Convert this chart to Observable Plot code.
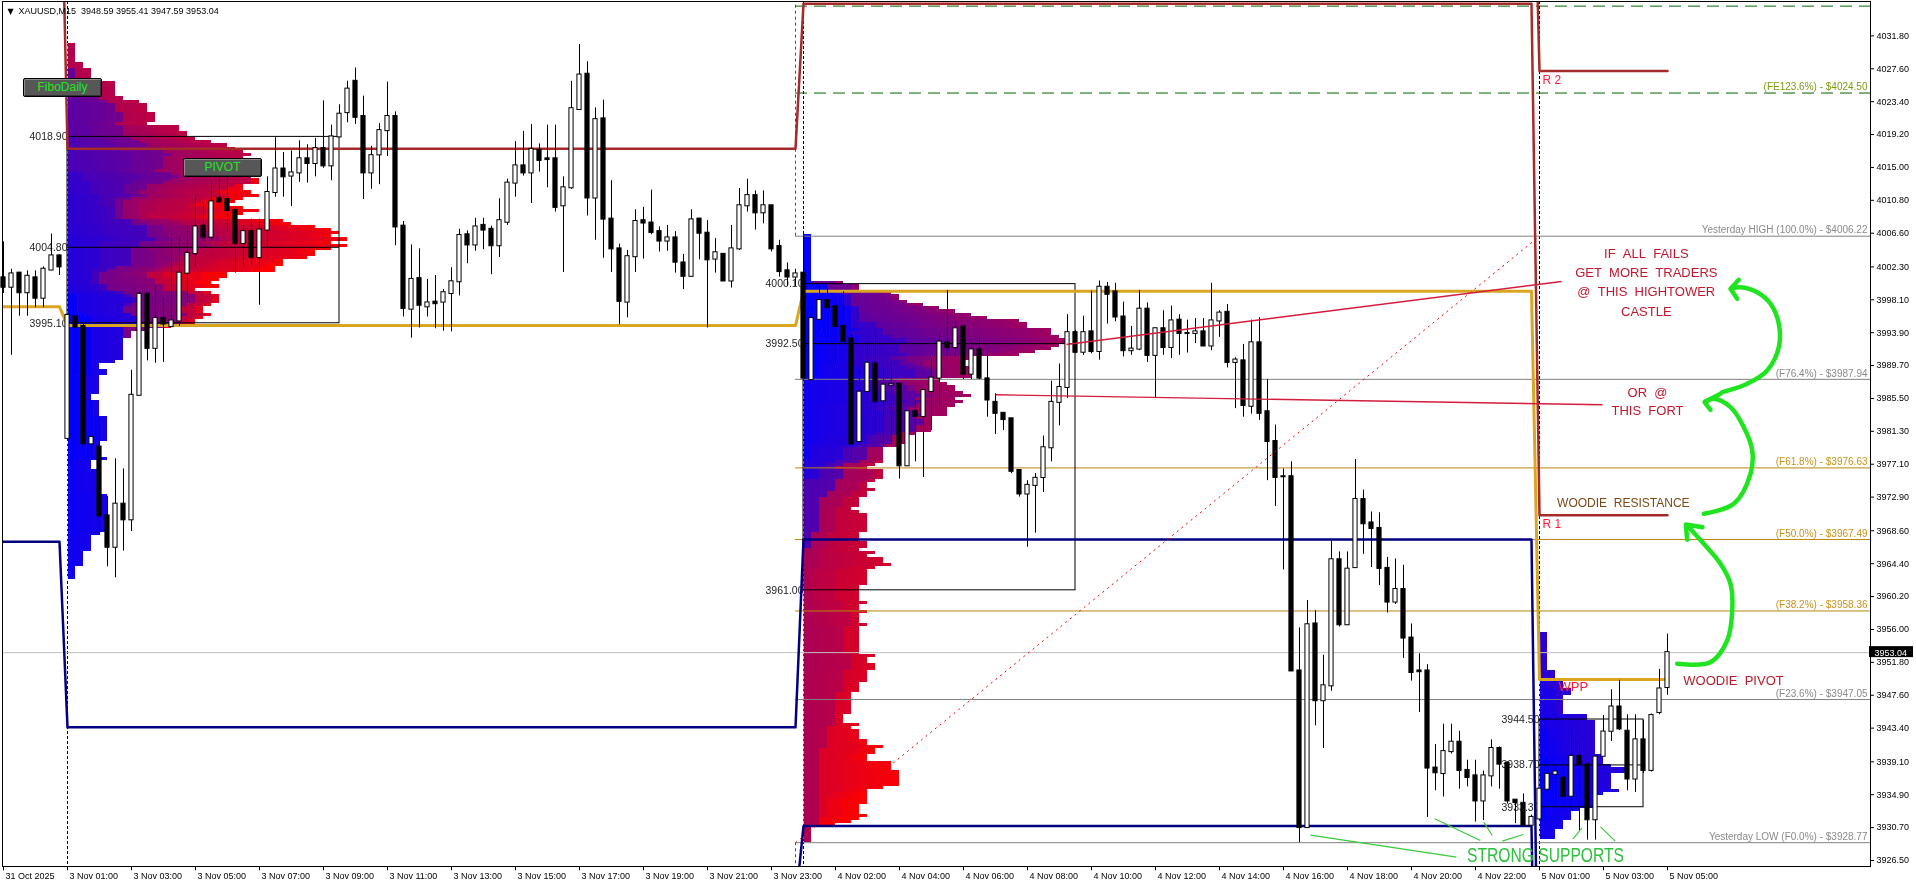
<!DOCTYPE html>
<html><head><meta charset="utf-8">
<script src="https://cdn.jsdelivr.net/npm/d3@7"></script>
<script src="https://cdn.jsdelivr.net/npm/@observablehq/plot@0.6"></script>
<style>
html,body{margin:0;padding:0;background:#fff;}
#wrap{position:relative;width:1916px;height:885px;overflow:hidden;}
.btn{position:absolute;width:77px;height:17px;background:#575757;border:1px solid #000;color:#22e622;font:12px 'Liberation Sans',Arial,sans-serif;text-align:center;line-height:17px;box-shadow:inset 1px 1px 0 #8c8c8c, inset -1px -1px 0 #333;border-radius:2px;}
</style></head><body><div id="wrap"></div>
<script>
// ---------- DATA (M15 bars, bar index 0 = 31 Oct late session) ----------
const opens = [4000.9,3999.7,4001.5,3999.0,4000.9,3998.3,4001.9,4003.7,3980.4,3995.9,
3994.7,3979.7,3979.3,3970.5,3966.5,3972.0,3970.0,3985.9,3998.8,3991.9,
3995.7,3994.7,3995.4,4001.5,4004.0,4007.5,4006.1,4011.0,4010.9,4009.5,
4005.3,4006.8,4003.5,4007.0,4011.8,4014.8,4013.9,4014.3,4016.1,4015.5,
4017.4,4015.2,4018.9,4022.0,4026.0,4021.5,4014.3,4016.6,4019.7,4021.5,
4007.5,3996.9,4000.8,3997.2,3997.8,3997.8,3998.9,4000.4,4006.4,4005.1,
4007.6,4007.1,4005.0,4008.0,4013.0,4015.2,4014.3,4017.2,4016.1,4016.1,
4010.1,4012.4,4022.4,4026.9,4011.1,4021.2,4008.4,4004.6,3997.8,4003.6,
4008.2,4007.9,4006.8,4005.6,4006.0,4002.8,4001.1,4008.4,4006.6,4003.3,
4003.9,4000.5,4004.6,4010.1,4011.4,4009.2,4010.1,4004.9,4001.8,4001.0,
4001.5,3987.9,3995.6,3998.0,3997.2,3994.7,3993.1,3980.0,3986.4,3989.9,
3985.2,3987.2,3987.3,3976.9,3983.8,3983.2,3986.4,3988.1,3992.6,3992.0,
3994.6,3988.6,3991.7,3988.0,3985.0,3983.6,3982.9,3976.3,3973.3,3974.4,
3975.4,3979.2,3985.0,3986.9,3993.9,3991.4,3994.0,3991.5,3999.7,3999.1,
3995.9,3991.6,3991.8,3996.9,3991.0,3994.4,3992.0,3995.5,3993.8,3993.8,
3994.0,3992.2,3995.4,3996.5,3990.1,3990.3,3984.5,3992.6,3983.8,3980.0,
3975.5,3975.5,3950.7,3930.7,3956.7,3946.9,3948.8,3964.9,3956.6,3963.9,
3972.6,3969.6,3968.9,3963.8,3959.5,3961.1,3954.9,3950.7,3950.7,3938.3,
3937.6,3940.4,3941.6,3938.0,3937.3,3934.1,3937.3,3940.8,3938.9,3934.2,
3933.8,3931.0,3931.8,3935.6,3937.5,3937.0,3934.7,3939.8,3938.7,3931.7,
3939.8,3943.0,3946.1,3943.0,3936.9,3941.9,3938.0,3945.4,3948.59];
const highs = [4005.5,4002.0,4001.6,4001.8,4001.8,4002.3,4006.5,4003.8,3996.3,3998.9,
3995.8,3985.2,3983.0,3973.0,3977.8,3976.5,3989.1,3999.1,3999.1,3999.9,
3998.4,4006.5,4006.1,4007.6,4011.5,4010.4,4013.1,4014.4,4014.2,4009.9,
4007.6,4008.4,4008.4,4013.8,4018.8,4016.9,4017.1,4018.4,4017.9,4018.7,
4023.5,4020.4,4023.0,4026.0,4027.7,4024.1,4017.7,4020.6,4025.9,4022.1,
4008.1,4005.1,4004.6,4000.7,4001.2,3999.4,4002.2,4007.1,4006.9,4008.5,
4008.5,4007.5,4011.0,4013.5,4018.3,4019.6,4020.5,4018.0,4020.4,4020.4,
4013.8,4026.0,4030.7,4028.5,4022.6,4023.6,4013.3,4005.2,4004.4,4009.6,
4009.9,4012.1,4007.4,4007.6,4006.8,4003.9,4009.6,4008.5,4008.2,4005.9,
4004.0,4007.6,4012.3,4013.5,4012.0,4012.0,4010.1,4005.7,4002.8,4002.0,
4006.22,3997.2,3999.8,3999.8,3998.9,3999.1,3993.6,3989.0,3992.6,3994.4,
3989.7,3990.0,3987.4,3983.9,3985.2,3986.6,3990.5,3993.9,3999.3,3995.4,
3995.0,3993.0,3993.3,3991.2,3986.1,3983.6,3982.9,3976.3,3975.0,3975.9,
3980.7,3987.7,3989.9,3996.2,3994.2,3996.0,3999.2,4000.5,4000.3,4000.2,
3997.8,3994.7,3999.3,3997.7,3994.5,3996.7,3997.3,3996.2,3995.5,3995.7,
3995.7,4000.2,3996.7,3997.5,3990.7,3992.4,3995.5,3995.8,3987.9,3982.1,
3976.5,3977.4,3956.2,3959.7,3958.4,3952.7,3967.3,3965.9,3965.9,3977.7,
3973.8,3971.0,3970.9,3965.2,3965.0,3964.2,3956.7,3952.9,3951.5,3941.3,
3943.9,3943.9,3943.0,3939.3,3939.3,3937.9,3941.9,3941.0,3939.1,3934.2,
3935.0,3932.3,3935.6,3939.5,3938.5,3938.4,3943.3,3941.7,3938.7,3939.8,
3945.0,3948.3,3949.5,3945.1,3945.1,3944.4,3945.2,3950.9,3955.41];
const lows = [3998.9,3991.0,3996.0,3996.0,3997.1,3997.1,4001.8,4001.2,3980.2,3988.4,
3977.6,3977.6,3968.0,3964.0,3962.6,3966.0,3968.5,3985.9,3990.3,3990.0,
3990.1,3994.7,3994.7,3997.8,4002.2,4005.6,4005.6,4010.5,4006.5,4001.5,
4002.3,4002.4,3997.4,4004.9,4011.2,4011.2,4010.0,4013.1,4013.0,4013.8,
4014.9,4013.3,4018.9,4020.7,4020.5,4010.9,4012.2,4012.8,4016.4,4005.0,
3995.9,3993.2,3994.5,3995.9,3994.4,3994.1,3994.0,3998.6,4002.7,4004.3,
4004.5,4001.3,4003.5,4007.6,4011.2,4013.9,4010.4,4014.4,4012.4,4009.3,
4001.6,4012.2,4022.4,4008.8,4005.7,4003.4,4001.6,3994.9,3995.8,4001.6,
4003.3,4006.4,4004.2,4004.3,4001.5,3999.4,4001.0,4003.2,3994.5,4001.5,
4000.5,3999.6,4004.4,4009.3,4007.0,4007.8,4004.2,4001.0,3999.8,3999.8,
3988.1,3987.9,3994.2,3992.4,3990.1,3992.5,3977.7,3979.7,3984.8,3980.8,
3979.4,3979.4,3975.2,3976.9,3977.4,3975.4,3981.4,3984.6,3990.8,3990.8,
3987.9,3987.9,3987.9,3983.1,3980.9,3981.4,3975.9,3972.9,3966.5,3968.3,
3973.5,3977.4,3982.0,3985.5,3991.2,3991.0,3991.2,3990.4,3995.0,3995.3,
3990.8,3991.0,3991.6,3990.1,3985.5,3991.0,3990.6,3991.0,3991.3,3992.5,
3992.1,3991.6,3993.3,3989.4,3984.2,3983.1,3983.5,3982.7,3975.0,3971.7,
3963.6,3950.7,3928.77,3930.7,3943.7,3940.8,3948.1,3956.3,3956.5,3963.9,
3965.6,3963.9,3961.6,3958.1,3959.2,3952.3,3949.4,3945.4,3932.0,3935.4,
3934.6,3940.1,3935.6,3935.9,3931.4,3931.6,3935.9,3935.6,3933.7,3931.2,
3930.8,3931.0,3931.8,3934.8,3933.1,3933.1,3932.9,3930.3,3929.1,3929.1,
3939.8,3941.7,3943.1,3935.4,3935.2,3937.6,3937.8,3945.1,3947.59];
const closes = [3999.7,4001.4,3999.0,4001.1,3998.3,4002.0,4003.7,4002.3,3996.1,3994.6,
3979.7,3980.5,3970.5,3966.5,3972.0,3970.0,3985.9,3998.8,3991.9,3995.7,
3995.0,3995.4,4001.5,4004.0,4007.4,4006.1,4010.6,4010.6,4009.5,4005.3,
4006.8,4003.5,4007.0,4011.8,4014.8,4013.8,4014.3,4016.1,4015.5,4017.4,
4015.2,4018.9,4021.8,4025.0,4021.4,4014.3,4016.5,4019.7,4021.5,4007.4,
3997.0,4000.7,3997.4,3997.7,3997.6,3999.0,4000.4,4006.3,4005.1,4007.4,
4007.0,4005.0,4008.2,4013.0,4015.2,4014.3,4017.3,4015.9,4016.0,4009.9,
4012.4,4022.5,4026.8,4011.1,4021.1,4008.4,4004.6,3997.9,4003.6,4008.1,
4007.9,4006.7,4005.6,4006.0,4002.9,4001.1,4008.3,4006.6,4003.2,4004.1,
4000.5,4004.6,4010.1,4011.4,4009.2,4010.1,4004.6,4001.7,4001.0,4001.4,
3988.1,3995.7,3998.0,3997.1,3994.7,3992.8,3979.7,3986.3,3990.0,3985.1,
3987.2,3987.3,3976.9,3983.8,3983.2,3986.5,3988.1,3992.7,3992.0,3994.4,
3988.6,3991.7,3988.1,3985.3,3983.6,3982.8,3976.2,3973.3,3974.4,3975.3,
3979.2,3985.0,3986.9,3993.9,3991.4,3993.9,3991.5,3999.7,3998.8,3995.9,
3991.6,3991.8,3996.9,3991.0,3994.4,3992.0,3995.4,3993.8,3993.8,3994.0,
3992.2,3995.4,3996.4,3990.1,3990.4,3984.6,3992.6,3983.6,3980.0,3975.4,
3975.5,3950.7,3930.7,3956.6,3946.9,3948.8,3964.9,3956.6,3963.7,3972.6,
3969.5,3968.9,3963.8,3959.5,3961.1,3954.9,3950.5,3950.6,3938.3,3937.7,
3940.4,3941.6,3938.0,3937.1,3934.1,3937.3,3940.8,3938.8,3934.1,3933.9,
3931.0,3932.0,3935.6,3937.5,3937.8,3934.7,3939.8,3938.8,3931.7,3939.7,
3942.9,3946.1,3943.3,3936.9,3941.9,3938.0,3945.0,3948.4,3953.04];

const timeTickBars = [0,8,16,24,32,40,48,56,64,72,80,88,96,104,112,120,128,136,144,152,160,168,176,184,192,200,208];
const timeTickLabels = ["31 Oct 2025","3 Nov 01:00","3 Nov 03:00","3 Nov 05:00","3 Nov 07:00","3 Nov 09:00","3 Nov 11:00","3 Nov 13:00","3 Nov 15:00","3 Nov 17:00","3 Nov 19:00","3 Nov 21:00","3 Nov 23:00","4 Nov 02:00","4 Nov 04:00","4 Nov 06:00","4 Nov 08:00","4 Nov 10:00","4 Nov 12:00","4 Nov 14:00","4 Nov 16:00","4 Nov 18:00","4 Nov 20:00","4 Nov 22:00","5 Nov 01:00","5 Nov 03:00","5 Nov 05:00"];
const priceTicks = [4031.80,4027.60,4023.40,4019.20,4015.00,4010.80,4006.60,4002.30,3998.10,3993.90,3989.70,3985.50,3981.30,3977.10,3972.90,3968.60,3964.40,3960.20,3956.00,3951.80,3947.60,3943.40,3939.10,3934.90,3930.70,3926.50];

// daily sessions and Woodie pivot levels (values above/below the visible range are clipped)
const sessionStart = [0, 8, 100, 192];
const sessionEnd = [7, 99, 191, 208];
const woodiePP = [3997.2, 3994.8, 3999.2, 3949.6];
const woodieR1 = [4064.0, 4017.4, 4035.9, 3970.6];
const woodieR2 = [4080.0, 4068.7, 4067.5, 4027.3];
const woodieS1 = [3967.2, 3943.5, 3967.5, 3893.0];
const woodieS2 = [3900.0, 3920.9, 3930.9, 3872.2];

// Fibonacci (yesterday low -> high)
const fibAnchorBars = [99, 192];
const fibLevelNames = ["(FE138.2%)","(FE123.6%)","Yesterday HIGH (100.0%)","(F76.4%)","(F61.8%)","(F50.0%)","(F38.2%)","(F23.6%)","Yesterday LOW (F0.0%)"];
const fibLevelPrices = [4035.60, 4024.50, 4006.22, 3987.94, 3976.63, 3967.49, 3958.36, 3947.05, 3928.77];
const fibLevelKinds = ["ext","ext","base","gray","gold","gold","gold","gray","base"];

// Market profile value-area boxes
const profileStart = [8, 100, 192];
const profileEnd = [42, 134, 205];
const profileVAH = [4018.90, 4000.10, 3944.50];
const profilePOC = [4004.80, 3992.50, 3938.70];
const profileVAL = [3995.10, 3961.00, 3933.30];

// hand-drawn objects (bar index, price)
const trendLines = [[132.875, 3992.39, 194.75, 4000.44], [124, 3985.97, 199.875, 3984.69]];
const supportLines = [[163.375,3929.74,181.625,3926.92],[178.9,3931.82,184.6,3929.05],[185.04,3931.39,186.09,3929.69],
  [187.34,3928.97,189.96,3929.82],[196.19,3929.27,197.29,3930.62],[199.625,3930.79,201.46,3928.97]];
const arrowPaths = [
  [[209.21,3951.62],[213.375,3951.82],[215.46,3954.59],[216.09,3958.42],[215.875,3961.83],[214.625,3964.39],[212.54,3966.94],[210.46,3969.28]],
  [[212.54,3970.77],[216.29,3972.05],[218.375,3975.88],[218.59,3978.86],[217.54,3981.83],[215.875,3984.39],[213.79,3985.46],[212.75,3985.11]],
  [[214.84,3986.30],[217.96,3987.37],[220.46,3989.07],[221.91,3992.05],[221.91,3995.04],[220.875,3997.59],[219.21,3999.07],[217.125,3999.71],[216.0,3999.54]]
];
const arrowHeads = [
  [[210.46,3967.45],[210.29,3969.41],[212.375,3969.06]],
  [[213.375,3984.05],[212.625,3985.02],[214.625,3986.10]],
  [[216.91,4000.65],[215.875,3999.50],[216.71,3998.23]]
];
const noteTexts = ["IF  ALL  FAILS","GET  MORE  TRADERS","@  THIS  HIGHTOWER","CASTLE","OR  @","THIS  FORT","WOODIE  RESISTANCE","WOODIE  PIVOT","STRONG SUPPORTS"];
const noteBars = [205.35,205.35,205.35,205.35,205.5,205.5,202.48,216.25,192.75];
const notePrices = [4003.97,4001.50,3999.07,3996.61,3986.23,3983.88,3972.13,3949.39,3927.14];
const lineTagTexts = ["R 2","R 1","WPP"];
const lineTagBars = [192.375,192.375,194.375];
const lineTagPrices = [4026.18,3969.5,3948.63];

// ---------- BUILD ----------
const X0 = -0.125, X1 = 233.375, Y0 = 3925.73, Y1 = 4036.19;
const F = "Liberation Sans, Arial, sans-serif";
const N = nt => nt.replace(/ /g, "\u00a0");
const candles = opens.map((o, i) => ({i, open: o, high: highs[i], low: lows[i], close: closes[i]}));
function expand(values) {
  const out = [{i: -1, v: values[0]}];
  sessionStart.forEach((s, k) => { for (let i = s; i <= sessionEnd[k]; i++) out.push({i, v: values[k]}); });
  return out;
}
const BIN = 0.4;
const tpoColor = d3.interpolateRgb("#0000ff", "#ff0000");
function tpoCells(start) {
  const bars = candles.filter(d => d.i >= start && d.i <= start + 91);
  const lo = Math.floor(d3.min(bars, d => d.low) / BIN), hi = Math.ceil(d3.max(bars, d => d.high) / BIN);
  const cells = [];
  for (let b = lo; b < hi; b++) {
    const y1 = b * BIN, y2 = (b + 1) * BIN, c = (y1 + y2) / 2;
    let k = 0;
    for (const d of bars) {
      if (d.low <= c && d.high >= c) {
        cells.push({x1: start + k, x2: start + k + 1, y1, y2, fill: tpoColor((d.i - start) / 91)});
        k++;
      }
    }
  }
  return cells;
}
const profileCells = profileStart.flatMap(tpoCells);
const profiles = profileStart.map((s, k) => ({start: s, end: profileEnd[k], vah: profileVAH[k], poc: profilePOC[k], val: profileVAL[k]}));
const profileLabels = profiles.flatMap(p => [p.vah, p.poc, p.val].map(v => ({x: p.start, v})));
const fibs = fibLevelNames.map((n, k) => ({name: n, price: fibLevelPrices[k], kind: fibLevelKinds[k]}));
const fibColor = {ext: "#006400", base: "#808080", gray: "#808080", gold: "#b8860b"};
const fibLabelColor = {ext: "#7a9a10", base: "#8a8a8a", gray: "#8a8a8a", gold: "#c8921a"};
const arrows = arrowPaths.flatMap((p, k) => p.map(([i, v]) => ({id: k, i, v})));
const heads = arrowHeads.flatMap((p, k) => p.map(([i, v]) => ({id: k, i, v})));
const notes = noteTexts.map((t, k) => ({t, i: noteBars[k], v: notePrices[k], k}));
const noteColor = ["#c0182e","#c0182e","#c0182e","#c0182e","#c0182e","#c0182e","#7a4a16","#b81c2c","#2cc03c"];
const noteSize = [13,13,13,13,13,13,12,13,21];
const tags = lineTagTexts.map((t, k) => ({t, i: lineTagBars[k], v: lineTagPrices[k]}));
const sep = sessionStart.slice(1);
const last = candles[candles.length - 1];

const plot = Plot.plot({
  width: 1916, height: 885,
  marginLeft: 2, marginRight: 46, marginTop: 1, marginBottom: 19,
  x: {domain: [X0, X1], axis: null},
  y: {domain: [Y0, Y1], axis: null},
  color: {type: "identity"},
  style: {background: "white", overflow: "visible"},
  marks: [
    Plot.frame({fill: "white"}),
    // market profiles
    Plot.rect(profileCells, {x1: "x1", x2: "x2", y1: "y1", y2: "y2", fill: "fill", shapeRendering: "crispEdges"}),
    // period separators (inverting over the profile)
    Plot.ruleX(sep, {stroke: "white", strokeDasharray: "3,2", mixBlendMode: "difference"}),
    // fibonacci levels
    Plot.ruleY(fibs.filter(d => d.kind === "ext"), {y: "price", x1: fibAnchorBars[0], x2: X1, stroke: "#006400", strokeDasharray: "12,7"}),
    Plot.ruleY(fibs.filter(d => d.kind !== "ext"), {y: "price", x1: fibAnchorBars[0], x2: X1, stroke: d => fibColor[d.kind]}),
    Plot.text(fibs.filter(d => d.price < 4030), {x: X1, y: "price", text: d => `${d.name} - $${d.price.toFixed(2)}`, textAnchor: "end", dx: -3, dy: -6, fill: d => fibLabelColor[d.kind], fontSize: 10, fontFamily: F}),
    // bid line
    Plot.ruleY([last.close], {stroke: "#c0c0c0"}),
    // fib anchor vertical (dotted red)
    Plot.ruleX([{a: fibLevelPrices[2], b: Y1}, {a: fibLevelPrices[8], b: Y0}], {x: fibAnchorBars[0], y1: "a", y2: "b", stroke: "#ff0000", strokeDasharray: "3,3"}),
    // value area boxes
    Plot.rect(profiles, {x1: "start", x2: "end", y1: "val", y2: "vah", fill: "none", stroke: "black"}),
    Plot.ruleY(profiles, {y: "poc", x1: "start", x2: "end", stroke: "black"}),
    Plot.text(profileLabels, {x: "x", y: "v", text: d => d.v.toFixed(2), textAnchor: "end", dx: 0, fill: "#1e1e1e", fontSize: 10.5, fontFamily: F}),
    // woodie pivots
    Plot.line(expand(woodieS2), {x: "i", y: "v", stroke: "#000080", strokeWidth: 2.5, clip: true}),
    Plot.line(expand(woodieS1), {x: "i", y: "v", stroke: "#000080", strokeWidth: 2.5, clip: true}),
    Plot.line(expand(woodieR2), {x: "i", y: "v", stroke: "#a52a2a", strokeWidth: 2.5, clip: true}),
    Plot.line(expand(woodieR1), {x: "i", y: "v", stroke: "#a52a2a", strokeWidth: 2.5, clip: true}),
    Plot.line(expand(woodiePP), {x: "i", y: "v", stroke: "#daa520", strokeWidth: 3, clip: true}),
    // candles
    Plot.ruleX(candles, {x: "i", y1: "low", y2: "high", stroke: "black"}),
    Plot.rect(candles, {x1: d => d.i - 0.26, x2: d => d.i + 0.26, y1: "open", y2: "close", insetTop: -0.5, insetBottom: -0.5,
      fill: d => d.close >= d.open ? "white" : "black", stroke: "black", strokeWidth: 1}),
    // fib diagonal
    Plot.link([0], {x1: fibAnchorBars[0], y1: fibLevelPrices[8], x2: fibAnchorBars[1], y2: fibLevelPrices[2], stroke: "#ff0000", strokeDasharray: "2,4"}),
    // trend lines
    Plot.link(trendLines, {x1: d => d[0], y1: d => d[1], x2: d => d[2], y2: d => d[3], stroke: "#d41c3c", strokeWidth: 1.4}),
    Plot.link(supportLines, {x1: d => d[0], y1: d => d[1], x2: d => d[2], y2: d => d[3], stroke: "#3acb3a", strokeWidth: 1.2}),
    // tags and notes
    Plot.text(tags, {x: "i", y: "v", text: "t", textAnchor: "start", fill: "#ff1a3a", fontSize: d => d.t === "WPP" ? 13 : 12, fontFamily: F}),
    Plot.text(notes, {x: "i", y: "v", text: d => N(d.t), textAnchor: "middle", fill: d => noteColor[d.k], fontSize: d => noteSize[d.k], fontFamily: F}),
    // green arrows
    Plot.line(arrows, {x: "i", y: "v", z: "id", curve: "catmull-rom", stroke: "#1fe41f", strokeWidth: 4.5, strokeLinecap: "round", strokeLinejoin: "round"}),
    Plot.line(heads, {x: "i", y: "v", z: "id", stroke: "#1fe41f", strokeWidth: 4.5, strokeLinecap: "round", strokeLinejoin: "round"}),
    // axes
    Plot.ruleX(timeTickBars, {y1: Y0, y2: Y0 - 0.55, stroke: "black"}),
    Plot.text(timeTickBars, {x: d => d, y: Y0, text: (d, k) => timeTickLabels[k], textAnchor: "start", dx: 2, dy: 10, fontSize: 9, fill: "black", fontFamily: F}),
    Plot.ruleY(priceTicks, {x1: X1, x2: X1 + 0.5, stroke: "black"}),
    Plot.text(priceTicks, {x: X1, y: d => d, text: d => d.toFixed(2), textAnchor: "start", dx: 6, fontSize: 9, fill: "black", fontFamily: F}),
    Plot.rect([last.close], {x1: X1, x2: X1, y1: d => d, y2: d => d, insetLeft: -1, insetRight: -43, insetTop: -6, insetBottom: -5, fill: "black"}),
    Plot.text([last.close], {x: X1, y: d => d, text: d => d.toFixed(2), textAnchor: "start", dx: 4, fontSize: 9, fill: "white", fontFamily: F}),
    Plot.frame({stroke: "black"}),
    // header
    Plot.text(["\u25BC"], {frameAnchor: "top-left", dx: 5, dy: 10, fontSize: 8, fill: "black", textAnchor: "start", lineAnchor: "middle", fontFamily: "DejaVu Sans"}),
    Plot.text([`XAUUSD,M15\u00a0\u00a0${last.open.toFixed(2)} ${last.high.toFixed(2)} ${last.low.toFixed(2)} ${last.close.toFixed(2)}`],
      {frameAnchor: "top-left", dx: 16, dy: 10, fontSize: 9, fill: "black", textAnchor: "start", lineAnchor: "middle", fontFamily: F})
  ]
});
d3.select(plot).selectAll("text").each(function () {
  if (this.textContent === "STRONG\u00a0SUPPORTS") {
    this.setAttribute("textLength", 157);
    this.setAttribute("lengthAdjust", "spacingAndGlyphs");
  }
});
const wrap = document.getElementById("wrap");
wrap.appendChild(plot);
for (const [label, left, top] of [["FiboDaily", 23, 78], ["PIVOT", 183, 158]]) {
  const b = document.createElement("div");
  b.className = "btn"; b.textContent = label;
  b.style.left = left + "px"; b.style.top = top + "px";
  wrap.appendChild(b);
}
</script></body></html>
